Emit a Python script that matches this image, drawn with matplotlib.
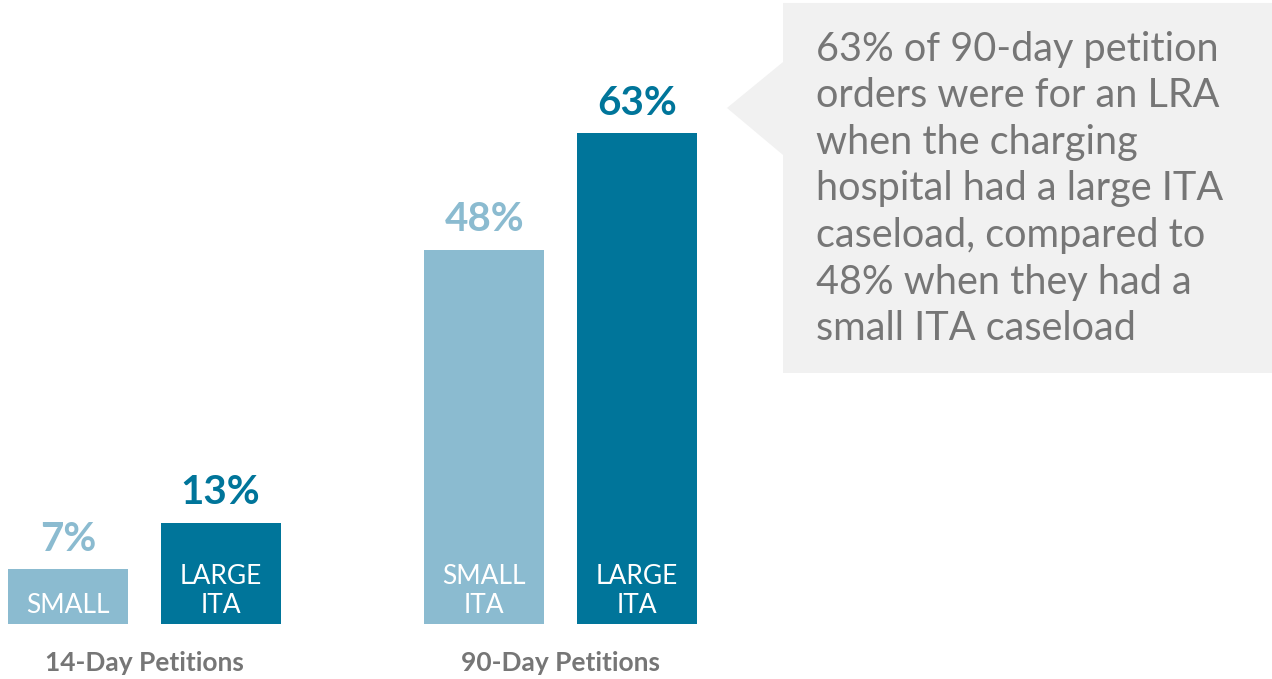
import matplotlib.pyplot as plt
from matplotlib.patches import Polygon

# bar data
groups = ['14-Day Petitions', '90-Day Petitions']
sizes = ['SMALL', 'LARGE']
values_14 = [7, 13]
values_90 = [48, 63]
inner_14 = ['SMALL', 'LARGE\nITA']
inner_90 = ['SMALL\nITA', 'LARGE\nITA']
note = ('63% of 90-day petition\norders were for an LRA\nwhen the charging\n'
        'hospital had a large ITA\ncaseload, compared to\n48% when they had a\n'
        'small ITA caseload')

light = '#8BBBD0'
dark = '#00759A'
grey = '#767676'

plt.rcParams['font.family'] = ['Lato', 'DejaVu Sans']

fig = plt.figure(figsize=(12.72, 6.79), dpi=100)
ax = fig.add_axes([0, 0, 1, 1])
ax.set_xlim(-0.446, 7.895)
ax.set_ylim(-7.06, 80.1)
ax.axis('off')

width = 0.787
positions = [[0, 1], [2.73, 3.73]]
values = [values_14, values_90]
inners = [inner_14, inner_90]
colors = [light, dark]

for g in range(2):
    for i in range(2):
        x = positions[g][i]
        v = values[g][i]
        ax.bar(x, v, width=width, color=colors[i])
        ax.text(x, v + 1.5, f'{v}%', ha='center', va='bottom',
                fontsize=29, fontweight='bold', color=colors[i])
        ax.text(x, 0.8, inners[g][i], ha='center', va='bottom',
                fontsize=19, color='white', linespacing=1.2)
    ax.text(sum(positions[g]) / 2, -5.0, groups[g], ha='center', va='center',
            fontsize=19, fontweight='bold', color=grey)

# callout box with pointer
box = Polygon([(0.6156, 0.9956), (1.0, 0.9956), (1.0, 0.4507),
               (0.6156, 0.4507), (0.6156, 0.7717), (0.5715, 0.841),
               (0.6156, 0.9087)], closed=True, transform=ax.transAxes,
              facecolor='#F1F1F1', edgecolor='none')
ax.add_patch(box)
ax.text(0.6415, 0.955, note, transform=ax.transAxes, ha='left', va='top',
        fontsize=28.5, color=grey, linespacing=1.32)

fig.savefig('out.png', dpi=100)
